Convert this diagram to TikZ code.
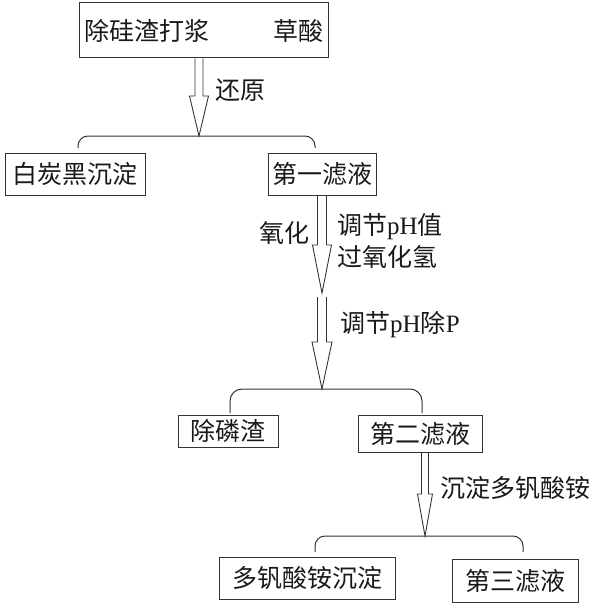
\documentclass[tikz,border=0pt]{standalone}
\usepackage{fontspec}
\setmainfont{Liberation Serif}
\newfontfamily\cjk{Noto Sans CJK SC}
\usetikzlibrary{calc}
\tikzset{
  box/.style={draw=black!80, line width=1pt, inner sep=0pt, font=\fontsize{25}{29}\selectfont\cjk, text=black!90},
  lbl/.style={inner sep=0pt, font=\fontsize{25}{29}\selectfont, text=black!90},
  hollow/.style={draw=black!80, line width=0.9pt},
  brace/.style={draw=black!80, line width=1pt, rounded corners=10pt},
}
\newcommand\harrow[5]{%
  \draw[hollow] let \p1=(#1), \p2=(#2) in (\x2-#4,\y1) -- (\x2-#4,\y2+#3) -- (\x2-#5,\y2+#3) -- (\x2,\y2) -- (\x2+#5,\y2+#3) -- (\x2+#4,\y2+#3) -- (\x2+#4,\y1);}
\begin{document}
\begin{tikzpicture}[x=1pt,y=-1pt]
\useasboundingbox (0,0) rectangle (600,610);
% boxes
\node[box, minimum width=249pt, minimum height=55pt, text width=239pt] (top) at (203.5,30.5) {除硅渣打浆\hfill 草酸};
\node[box, minimum width=140pt, minimum height=42pt] (wcb) at (75,174) {白炭黑沉淀};
\node[box, minimum width=108pt, minimum height=42pt] (f1) at (322,174) {第一滤液};
\node[box, minimum width=100pt, minimum height=32pt] (prs) at (228,431) {除磷渣};
\node[box, minimum width=124pt, minimum height=37pt] (f2) at (420,433.5) {第二滤液};
\node[box, minimum width=176pt, minimum height=42pt] (apv) at (307,578) {多钒酸铵沉淀};
\node[box, minimum width=126pt, minimum height=43pt] (f3) at (515,580.5) {第三滤液};
% coordinates
\coordinate (t1) at (199,136);
\coordinate (b1l) at (78,148);
\coordinate (b1r) at (315,148);
\coordinate (t2) at (322,293);
\coordinate (s3) at (322,297);
\coordinate (t3) at (322,389);
\coordinate (b2l) at (230,413);
\coordinate (b2r) at (422,413);
\coordinate (t4) at (425,536);
\coordinate (b3l) at (315,552);
\coordinate (b3r) at (523,552);
% hollow arrows
\harrow{top.south -| t1}{t1}{40pt}{4pt}{9.5pt}
\harrow{f1.south}{t2}{48pt}{4.5pt}{9.5pt}
\harrow{s3}{t3}{47pt}{4.5pt}{10pt}
\harrow{f2.south -| t4}{t4}{42pt}{3.5pt}{7.5pt}
% braces
\draw[brace] (b1l) -- (b1l |- t1) -- (b1r |- t1) -- (b1r);
\draw[brace, rounded corners=12pt] (b2l) -- (b2l |- t3) -- (b2r |- t3) -- (b2r);
\draw[brace] (b3l) -- (b3l |- t4) -- (b3r |- t4) -- (b3r);
% labels
\node[lbl, anchor=west] (l1) at (215,90) {\cjk 还原};
\node[lbl, anchor=east] (l2) at (310,233) {\cjk 氧化};
\node[lbl, anchor=west] (l3) at (337,227) {{\cjk 调节}pH{\cjk 值}};
\node[lbl, anchor=west] (l4) at (337,257) {\cjk 过氧化氢};
\node[lbl, anchor=west] (l5) at (340,325) {{\cjk 调节}pH{\cjk 除}P};
\node[lbl, anchor=west] (l6) at (440,488) {\cjk 沉淀多钒酸铵};
\end{tikzpicture}
\end{document}
